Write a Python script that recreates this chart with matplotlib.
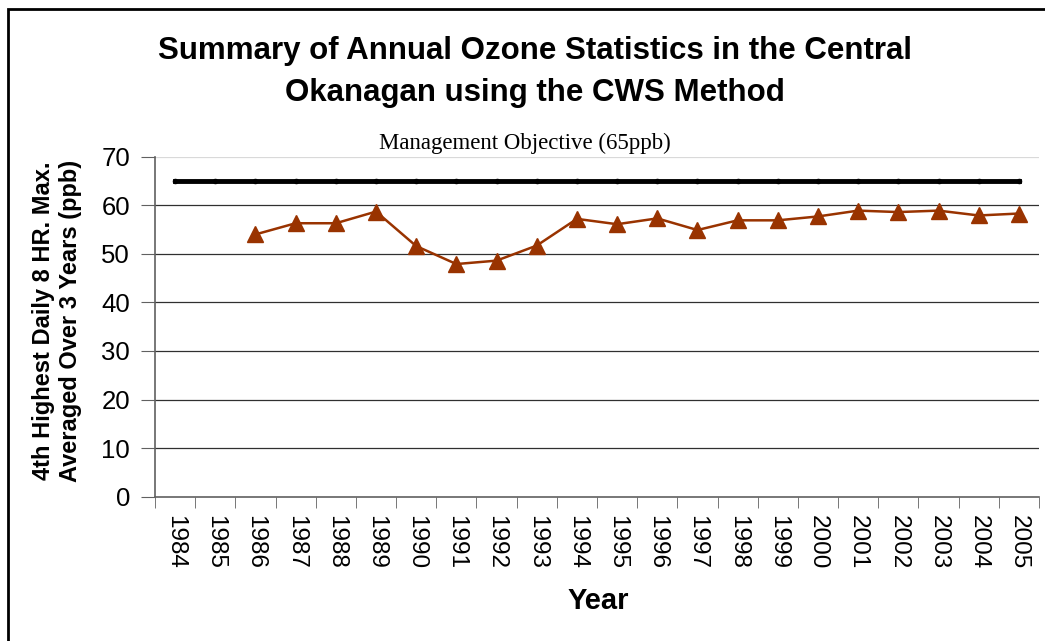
import numpy as np
import matplotlib.pyplot as plt
from matplotlib.patches import Rectangle

# data
years = [str(y) for y in range(1984, 2006)]
ozone = [np.nan, np.nan, 54.0, 56.3, 56.3, 58.7, 51.6, 47.9, 48.6, 51.7, 57.2,
         56.1, 57.3, 54.9, 56.9, 56.9, 57.7, 58.9, 58.6, 58.9, 57.9, 58.3]
objective = [65] * len(years)
yticks = [0, 10, 20, 30, 40, 50, 60, 70]

W, H = 1045, 641
fig = plt.figure(figsize=(W / 100, H / 100), dpi=100)
plt.rcParams['font.family'] = ['Liberation Sans', 'DejaVu Sans']

# outer border of the chart area
fig.patches.append(Rectangle((8 / W, -0.1), 1.2, 1.1 - 9 / H, transform=fig.transFigure,
                             fill=False, edgecolor='black', linewidth=2))

ax = fig.add_axes([155 / W, 1 - 496.7 / H, 884 / W, 340 / H])
x = np.arange(len(years))

for v in yticks[1:-1]:
    ax.axhline(v, color='#303030', linewidth=0.9, zorder=1)
ax.axhline(70, color='#d9d9d9', linewidth=0.9, zorder=1)

ax.plot(x, objective, color='black', linewidth=3.5, marker='o', markersize=3,
        zorder=3)
ax.plot(x, ozone, color='#993300', linewidth=1.8, marker='^', markersize=12,
        zorder=4)

ax.set_xlim(-0.5, len(years) - 0.5)
ax.set_ylim(0, 70)
ax.set_yticks(yticks)
ax.set_yticklabels([str(v) for v in yticks], fontsize=18.5)
ax.set_xticks(x)
ax.set_xticklabels(years, rotation=-90, fontsize=17.5)
ax.set_xticks(np.arange(-0.5, len(years)), minor=True)
ax.tick_params(axis='x', which='major', length=0, pad=13)
ax.tick_params(axis='x', which='minor', length=8, color='#606060', direction='out')
ax.tick_params(axis='y', length=10, color='#606060', direction='out', pad=8)

for s in ['top', 'right']:
    ax.spines[s].set_visible(False)
for s in ['left', 'bottom']:
    ax.spines[s].set_color('#606060')
    ax.spines[s].set_linewidth(1.2)

fig.text(598 / W, 1 - 601 / H, 'Year', ha='center', va='center', fontsize=21,
         fontweight='bold')

fig.text(535 / W, 1 - 72 / H,
         'Summary of Annual Ozone Statistics in the Central\nOkanagan using the CWS Method',
         ha='center', va='center', fontsize=22.5, fontweight='bold', linespacing=1.55)
fig.text(57 / W, 1 - 321 / H,
         '4th Highest Daily 8 HR. Max.\nAveraged Over 3 Years (ppb)',
         ha='center', va='center', rotation=90, fontsize=17, fontweight='bold',
         linespacing=1.25)
fig.text(525 / W, 1 - 143 / H, 'Management Objective (65ppb)',
         ha='center', va='center', fontsize=16.5, family='Liberation Serif',
         bbox=dict(facecolor='white', edgecolor='none', pad=2))

fig.savefig('out.png', dpi=100)
